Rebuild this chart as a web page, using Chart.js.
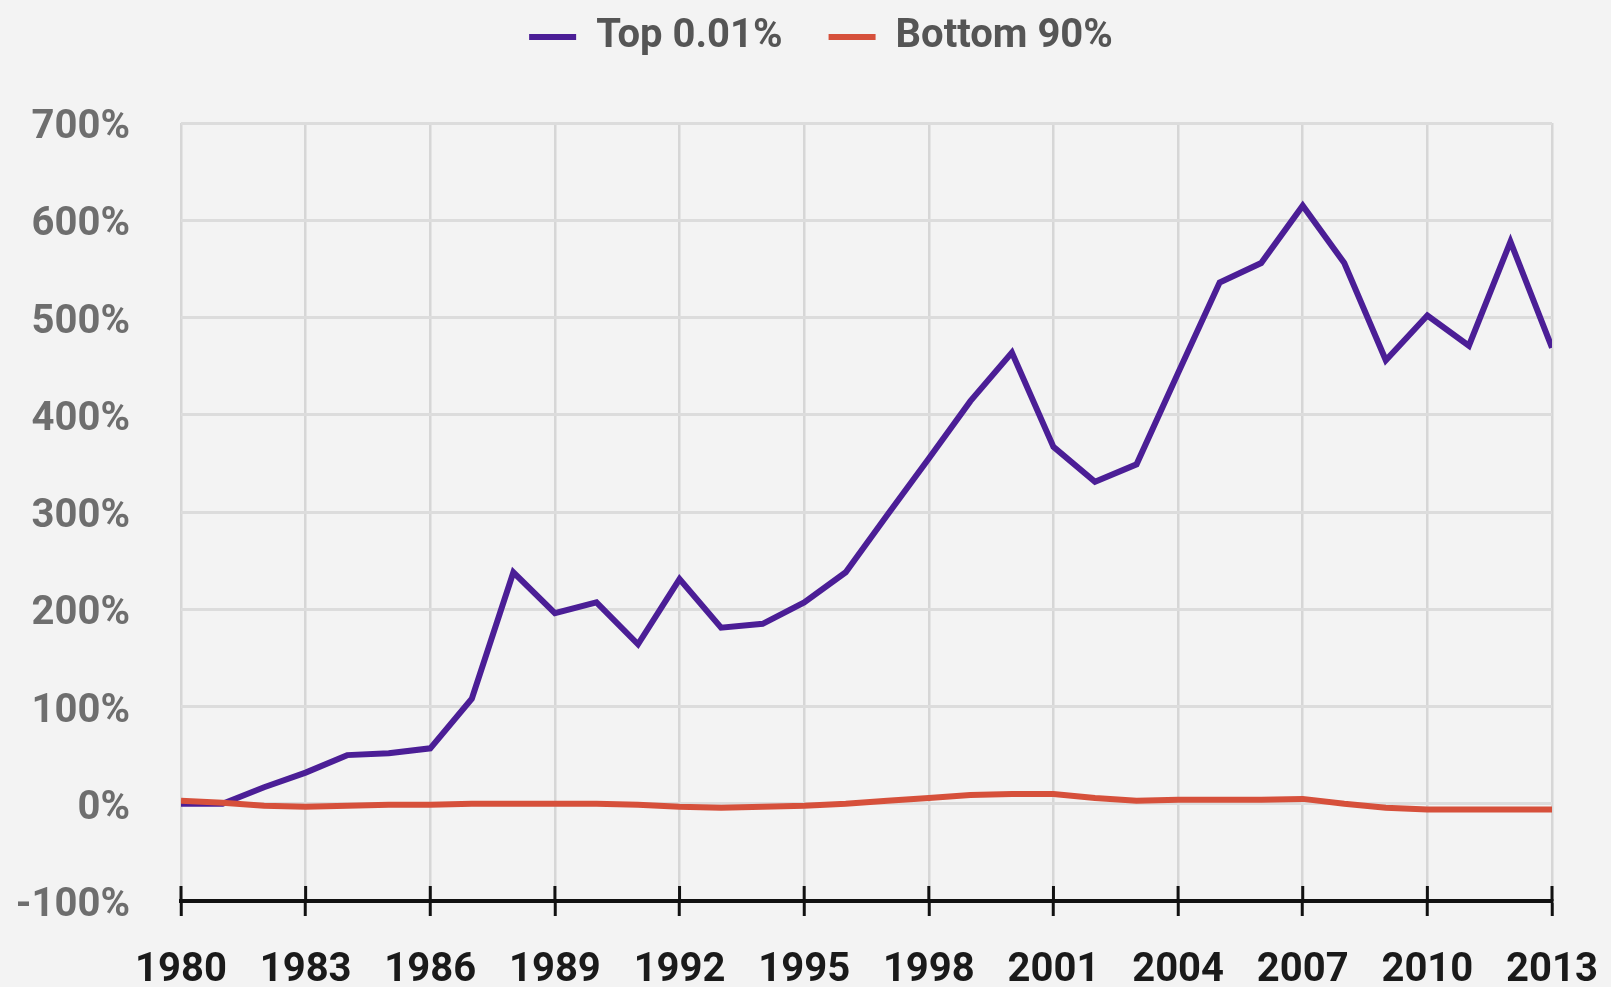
<!DOCTYPE html>
<html>
<head>
    <title>Top 0.01% vs Bottom 90%</title>
    <script src="https://cdn.jsdelivr.net/npm/chart.js"></script>
    <style>
        body { margin: 0; background: #f3f3f3; }
        canvas { display: block; }
    </style>
</head>
<body>
    <canvas id="incomeChart" width="1611" height="987"></canvas>

    <script>
        const years = [1980, 1981, 1982, 1983, 1984, 1985, 1986, 1987, 1988, 1989,
                       1990, 1991, 1992, 1993, 1994, 1995, 1996, 1997, 1998, 1999,
                       2000, 2001, 2002, 2003, 2004, 2005, 2006, 2007, 2008, 2009,
                       2010, 2011, 2012, 2013];

        // growth since 1980, in %
        const topShare = [0, 0, 17, 32, 50, 52, 57, 108, 238, 196,
                          207, 164, 231, 181, 185, 207, 238, 297, 355, 414,
                          464, 367, 331, 349, 443, 536, 556, 615, 556, 456,
                          502, 471, 578, 469];
        const bottomShare = [3, 1, -2, -3, -2, -1, -1, 0, 0, 0,
                             0, -1, -3, -4, -3, -2, 0, 3, 6, 9,
                             10, 10, 6, 3, 4, 4, 4, 5, 0, -4,
                             -6, -6, -6, -6];

        const yTicks = [-100, 0, 100, 200, 300, 400, 500, 600, 700];

        const fontFamily = "Roboto, 'Liberation Sans', sans-serif";

        // legend needs more room below it and sits a bit right of centre
        const legendPlace = {
            id: 'legendPlace',
            beforeInit(chart) {
                const fit = chart.legend.fit;
                chart.legend.fit = function () {
                    fit.call(this);
                    this.height = 123;
                };
            },
            afterLayout(chart) {
                chart.legend.top = -29;
                chart.legend.left += 45;
                chart.legend.right += 45;
            }
        };

        // tick marks cross the axis line, draw the upper half
        const axisTicks = {
            id: 'axisTicks',
            afterDraw(chart) {
                const { ctx, chartArea } = chart;
                const x = chart.scales.x;
                ctx.save();
                ctx.strokeStyle = '#111';
                ctx.lineWidth = 3;
                x.ticks.forEach(t => {
                    const px = x.getPixelForValue(t.value);
                    ctx.beginPath();
                    ctx.moveTo(px, chartArea.bottom - 15);
                    ctx.lineTo(px, chartArea.bottom);
                    ctx.stroke();
                });
                ctx.restore();
            }
        };

        new Chart(document.getElementById('incomeChart'), {
            type: 'line',
            data: {
                labels: years,
                datasets: [
                    {
                        label: 'Top 0.01%',
                        data: topShare,
                        borderColor: '#4b1e96',
                        backgroundColor: '#4b1e96',
                        borderWidth: 6,
                        pointRadius: 0,
                        tension: 0,
                        order: 1
                    },
                    {
                        label: 'Bottom 90%',
                        data: bottomShare,
                        borderColor: '#d6503b',
                        backgroundColor: '#d6503b',
                        borderWidth: 6,
                        pointRadius: 0,
                        tension: 0,
                        order: 0
                    }
                ]
            },
            options: {
                responsive: false,
                animation: false,
                layout: { padding: { right: 59 } },
                plugins: {
                    tooltip: { enabled: false },
                    legend: {
                        position: 'top',
                        labels: {
                            sort: (a, b) => a.datasetIndex - b.datasetIndex,
                            usePointStyle: true,
                            pointStyle: 'line',
                            pointStyleWidth: 47,
                            padding: 46,
                            color: '#555',
                            font: { family: fontFamily, size: 40, weight: 'bold' }
                        }
                    }
                },
                scales: {
                    x: {
                        type: 'linear',
                        min: 1980,
                        max: 2013,
                        afterFit: s => {
                            s.height = 86;
                            s.paddingLeft = 0;
                            s.paddingRight = 0;
                        },
                        grid: {
                            color: '#d6d6d6',
                            lineWidth: 2.5,
                            tickColor: '#111',
                            tickWidth: 3,
                            tickLength: 15
                        },
                        border: { color: '#111', width: 4 },
                        ticks: {
                            stepSize: 3,
                            padding: 31,
                            maxRotation: 0,
                            color: '#1a1a1a',
                            font: { family: fontFamily, size: 40, weight: 'bold' },
                            callback: v => String(v)
                        }
                    },
                    y: {
                        min: yTicks[0],
                        max: yTicks[yTicks.length - 1],
                        afterFit: s => { s.width = 181; },
                        afterBuildTicks: s => { s.ticks = yTicks.map(v => ({ value: v })); },
                        grid: {
                            color: '#dcdcdc',
                            lineWidth: 3,
                            drawTicks: false
                        },
                        border: { display: false },
                        ticks: {
                            padding: 51,
                            labelOffset: 5,
                            color: '#6e6e6e',
                            font: { family: fontFamily, size: 40, weight: 'bold' },
                            callback: v => v + '%'
                        }
                    }
                }
            },
            plugins: [legendPlace, axisTicks]
        });
    </script>
</body>
</html>
